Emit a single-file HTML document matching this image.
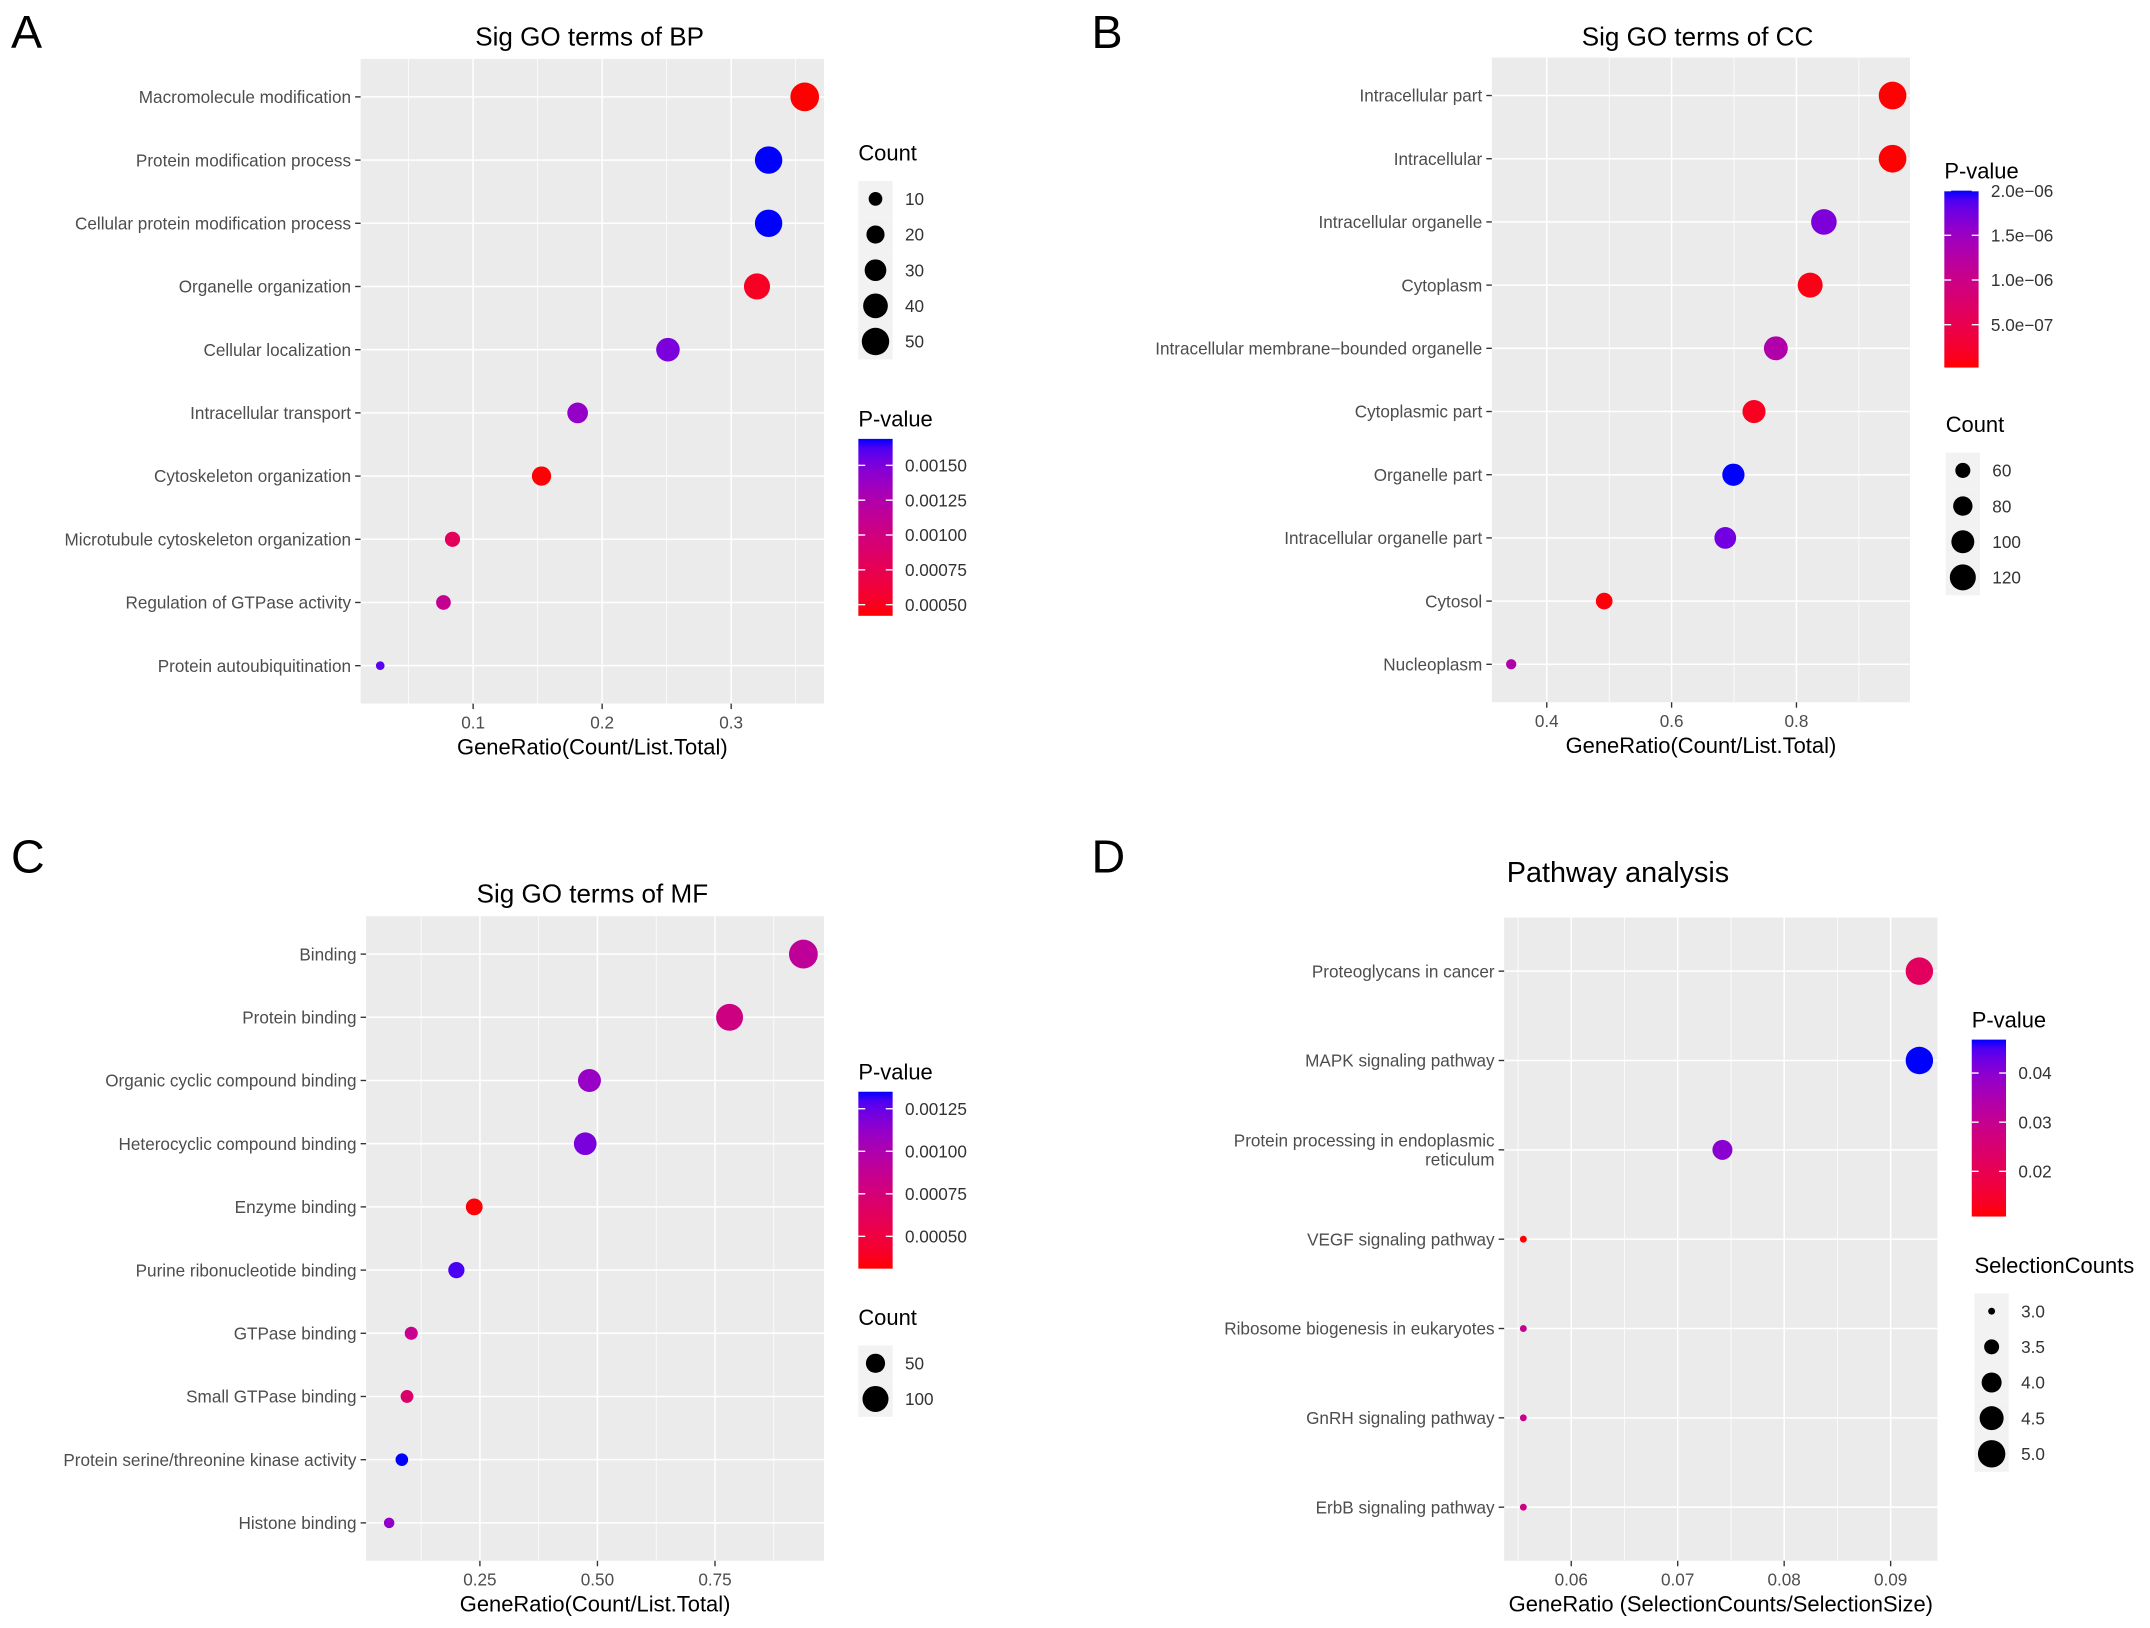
<!DOCTYPE html>
<html><head><meta charset="utf-8"><style>
html,body{margin:0;padding:0;background:#fff;}
svg{display:block;font-family:"Liberation Sans",Arial,sans-serif;}
</style></head><body>
<svg id="fig" width="2150" height="1628" viewBox="0 0 1568 1187" preserveAspectRatio="none" xmlns="http://www.w3.org/2000/svg"></svg>
<script>
// ---------- Panel A data (BP) ----------
const catsA = ["Macromolecule modification","Protein modification process","Cellular protein modification process","Organelle organization","Cellular localization","Intracellular transport","Cytoskeleton organization","Microtubule cytoskeleton organization","Regulation of GTPase activity","Protein autoubiquitination"];
const ratioA = [0.357,0.329,0.329,0.320,0.251,0.181,0.153,0.084,0.077,0.028];
const countA = [55,50,50,45,36,27,23,13,12,2];
const pA = [0.00042,0.00169,0.00169,0.00052,0.00150,0.00140,0.00043,0.00080,0.00110,0.00160];
const xticksA = [0.1,0.2,0.3];
const xtickLabA = ["0.1","0.2","0.3"];
const sizeBreaksA = [10,20,30,40,50];
const pBreaksA = [0.0005,0.00075,0.001,0.00125,0.0015];
const pLabA = ["0.00050","0.00075","0.00100","0.00125","0.00150"];
// ---------- Panel B data (CC) ----------
const catsB = ["Intracellular part","Intracellular","Intracellular organelle","Cytoplasm","Intracellular membrane\u2212bounded organelle","Cytoplasmic part","Organelle part","Intracellular organelle part","Cytosol","Nucleoplasm"];
const ratioB = [0.954,0.954,0.844,0.822,0.767,0.732,0.699,0.686,0.492,0.343];
const countB = [132,132,117,113,106,101,96,93,67,44];
const pB = [3e-8,3e-8,1.7e-6,1e-7,1.3e-6,1.5e-7,2.0e-6,1.75e-6,5e-8,1.3e-6];
const xticksB = [0.4,0.6,0.8];
const xtickLabB = ["0.4","0.6","0.8"];
const sizeBreaksB = [60,80,100,120];
const pBreaksB = [5e-7,1e-6,1.5e-6,2e-6];
const pLabB = ["5.0e\u221207","1.0e\u221206","1.5e\u221206","2.0e\u221206"];
// ---------- Panel C data (MF) ----------
const catsC = ["Binding","Protein binding","Organic cyclic compound binding","Heterocyclic compound binding","Enzyme binding","Purine ribonucleotide binding","GTPase binding","Small GTPase binding","Protein serine/threonine kinase activity","Histone binding"];
const ratioC = [0.938,0.781,0.483,0.474,0.238,0.200,0.104,0.095,0.084,0.057];
const countC = [125,108,76,74,36,33,18,17,16,8];
const pC = [0.00090,0.00080,0.00110,0.00120,0.00032,0.00130,0.00085,0.00070,0.00135,0.00112];
const xticksC = [0.25,0.5,0.75];
const xtickLabC = ["0.25","0.50","0.75"];
const sizeBreaksC = [50,100];
const pBreaksC = [0.0005,0.00075,0.001,0.00125];
const pLabC = ["0.00050","0.00075","0.00100","0.00125"];
// ---------- Panel D data (Pathway) ----------
const catsD = ["Proteoglycans in cancer","MAPK signaling pathway","Protein processing in endoplasmic|reticulum","VEGF signaling pathway","Ribosome biogenesis in eukaryotes","GnRH signaling pathway","ErbB signaling pathway"];
const ratioD = [0.0927,0.0927,0.0742,0.0555,0.0555,0.0555,0.0555];
const countD = [5,5,4,3,3,3,3];
const pD = [0.022,0.0468,0.040,0.011,0.030,0.029,0.028];
const xticksD = [0.06,0.07,0.08,0.09];
const xtickLabD = ["0.06","0.07","0.08","0.09"];
const sizeBreaksD = [3.0,3.5,4.0,4.5,5.0];
const sizeLabD = ["3.0","3.5","4.0","4.5","5.0"];
const pBreaksD = [0.02,0.03,0.04];
const pLabD = ["0.02","0.03","0.04"];

const NS = "http://www.w3.org/2000/svg";
const svg = document.getElementById('fig');
function mk(tag, attrs, parent){const e=document.createElementNS(NS,tag);for(const k in attrs)e.setAttribute(k,attrs[k]);(parent||svg).appendChild(e);return e;}
function txt(s, attrs, parent){const e=mk('text',attrs,parent);e.textContent=s;return e;}

function lin(c){c/=255;return c<=0.04045?c/12.92:Math.pow((c+0.055)/1.055,2.4);}
function unlin(c){c=c<=0.0031308?12.92*c:1.055*Math.pow(c,1/2.4)-0.055;return Math.max(0,Math.min(255,Math.round(c*255)));}
const Xn=0.95047,Yn=1,Zn=1.08883;
function f(t){return t>0.008856?Math.cbrt(t):7.787*t+16/116;}
function finv(t){return t>0.206893?t*t*t:(t-16/116)/7.787;}
function rgb2lab(r,g,b){r=lin(r);g=lin(g);b=lin(b);
 const X=0.4124*r+0.3576*g+0.1805*b,Y=0.2126*r+0.7152*g+0.0722*b,Z=0.0193*r+0.1192*g+0.9505*b;
 const fx=f(X/Xn),fy=f(Y/Yn),fz=f(Z/Zn);return [116*fy-16,500*(fx-fy),200*(fy-fz)];}
function lab2rgb(L,a,bb){const fy=(L+16)/116,fx=fy+a/500,fz=fy-bb/200;
 const X=Xn*finv(fx),Y=Yn*finv(fy),Z=Zn*finv(fz);
 const r=3.2406*X-1.5372*Y-0.4986*Z,g=-0.9689*X+1.8758*Y+0.0415*Z,b=0.0557*X-0.2040*Y+1.0570*Z;
 return 'rgb('+unlin(r)+','+unlin(g)+','+unlin(b)+')';}
const LR=rgb2lab(255,0,0), LB=rgb2lab(0,0,255);
function grad(t){t=Math.max(0,Math.min(1,t));return lab2rgb(LR[0]+(LB[0]-LR[0])*t,LR[1]+(LB[1]-LR[1])*t,LR[2]+(LB[2]-LR[2])*t);}

let gradId=0;
function drawPanel(c){
  const g = mk('g',{});
  
  
  const L = txt(c.letter,{x:c.letterX,y:c.letterY,'font-size':34,fill:'#000'},g);
  
  
  const T = txt(c.title,{x:c.titleX,y:c.titleY,'font-size':c.titleSize||19,'text-anchor':'middle',fill:'#000'},g);
  
  
  const bg = mk('rect',{x:c.x0,y:c.y0,width:c.x1-c.x0,height:c.y1-c.y0,fill:'#ebebeb'},g);
  
  
  const xs = v => c.x0 + (v - c.d0)/(c.d1 - c.d0)*(c.x1 - c.x0);
  const n = c.cats.length;
  const step = (c.y1 - c.y0)/(n - 1 + 1.2);
  const ys = i => c.y0 + (0.6 + i)*step;
  for(let k=0;k<c.ticks.length+1;k++){
    const a = k===0 ? c.ticks[0]-(c.ticks[1]-c.ticks[0]) : c.ticks[k-1];
    const b = k<c.ticks.length ? c.ticks[k] : c.ticks[k-1]+(c.ticks[1]-c.ticks[0]);
    const m=(a+b)/2;
    if(m>c.d0 && m<c.d1){const px=xs(m);
      const ln=mk('line',{x1:px,x2:px,y1:c.y0,y2:c.y1,stroke:'#fff','stroke-width':0.55},g);
      
      }
  }
  c.ticks.forEach((t,i)=>{const px=xs(t);
    const ln=mk('line',{x1:px,x2:px,y1:c.y0,y2:c.y1,stroke:'#fff','stroke-width':1.1},g);
    
    
    mk('line',{x1:px,x2:px,y1:c.y1,y2:c.y1+4,stroke:'#333','stroke-width':1},g);
    const tl=txt(c.tickLab[i],{x:px,y:c.y1+18,'font-size':12.5,'text-anchor':'middle',fill:'#4d4d4d'},g);
    
    
  });
  c.cats.forEach((cat,i)=>{const py=ys(i);
    const ln=mk('line',{x1:c.x0,x2:c.x1,y1:py,y2:py,stroke:'#fff','stroke-width':1.1},g);
    
    
    mk('line',{x1:c.x0-4,x2:c.x0,y1:py,y2:py,stroke:'#333','stroke-width':1},g);
    const parts=cat.split('|');
    const yl=txt('',{x:c.x0-7,y:py+4.5-(parts.length-1)*7,'font-size':12.5,'text-anchor':'end',fill:'#4d4d4d'},g);
    parts.forEach((p,j)=>{const ts=mk('tspan',{x:c.x0-7,dy:j?14:0},yl);ts.textContent=p;});
    
    
  });
  const at=txt(c.xTitle,{x:(c.x0+c.x1)/2,y:c.y1+37,'font-size':16,'text-anchor':'middle',fill:'#000'},g);
  
  
  const rad = v => Math.sqrt(Math.max(4, c.sa + c.sb*v));
  const pcol = v => grad((v - c.p0)/(c.p1 - c.p0));
  c.cats.forEach((cat,i)=>{
    const pt=mk('circle',{cx:xs(c.ratio[i]),cy:ys(i),r:rad(c.count[i]),fill:pcol(c.p[i])},g);
    
    
  });
  const sl=mk('g',{},g);
  
  
  txt(c.sTitle,{x:c.sx,y:c.sy,'font-size':16,fill:'#000'},sl);
  c.sBreaks.forEach((b,i)=>{const ky=c.sy+15+i*26;
    mk('rect',{x:c.sx,y:ky,width:25,height:26,fill:'#f2f2f2'},sl);
    const kc=mk('circle',{cx:c.sx+12.5,cy:ky+13,r:rad(b),fill:'#000'},sl);
    
    
    txt(c.sLab?c.sLab[i]:String(b),{x:c.sx+34,y:ky+17.5,'font-size':12.5,fill:'#333'},sl);
  });
  const cl=mk('g',{},g);
  
  
  txt('P-value',{x:c.cx,y:c.cy,'font-size':16,fill:'#000'},cl);
  const id='gr'+(gradId++);
  const lg=mk('linearGradient',{id:id,x1:0,y1:1,x2:0,y2:0},mk('defs',{},cl));
  for(let k=0;k<=20;k++){mk('stop',{offset:(k/20),'stop-color':grad(k/20)},lg);}
  const bt=c.cy+9, bh=129;
  mk('rect',{x:c.cx,y:bt,width:25,height:bh,fill:'url(#'+id+')'},cl);
  c.pBreaks.forEach((b,i)=>{const py=bt+bh-(b-c.p0)/(c.p1-c.p0)*bh;
    mk('line',{x1:c.cx,x2:c.cx+5,y1:py,y2:py,stroke:'#fff','stroke-width':1},cl);
    mk('line',{x1:c.cx+20,x2:c.cx+25,y1:py,y2:py,stroke:'#fff','stroke-width':1},cl);
    txt(c.pLab[i],{x:c.cx+34,y:py+4.5,'font-size':12.5,fill:'#333'},cl);
  });
}

drawPanel({name:'panel-a-bp',letter:'A',letterX:8,letterY:35,title:'Sig GO terms of BP',titleX:430,titleY:33,
  x0:263,x1:601,y0:43,y1:513,d0:0.0128,d1:0.372,cats:catsA,ratio:ratioA,count:countA,p:pA,
  ticks:xticksA,tickLab:xtickLabA,xTitle:'GeneRatio(Count/List.Total)',
  sa:6.25,sb:1.875,sTitle:'Count',sx:626,sy:117,sBreaks:sizeBreaksA,
  p0:0.00042,p1:0.00169,cx:626,cy:311,pBreaks:pBreaksA,pLab:pLabA});
drawPanel({name:'panel-b-cc',letter:'B',letterX:796,letterY:35,title:'Sig GO terms of CC',titleX:1238,titleY:33,
  x0:1088,x1:1393,y0:42,y1:512,d0:0.312,d1:0.982,cats:catsB,ratio:ratioB,count:countB,p:pB,
  ticks:xticksB,tickLab:xtickLabB,xTitle:'GeneRatio(Count/List.Total)',
  sa:-30,sb:1,sTitle:'Count',sx:1419,sy:315,sBreaks:sizeBreaksB,
  p0:2e-8,p1:2.0e-6,cx:1418,cy:130,pBreaks:pBreaksB,pLab:pLabB});
drawPanel({name:'panel-c-mf',letter:'C',letterX:8,letterY:636,title:'Sig GO terms of MF',titleX:432,titleY:658,
  x0:267,x1:601,y0:668,y1:1138,d0:0.008,d1:0.982,cats:catsC,ratio:ratioC,count:countC,p:pC,
  ticks:xticksC,tickLab:xtickLabC,xTitle:'GeneRatio(Count/List.Total)',
  sa:8,sb:0.82,sTitle:'Count',sx:626,sy:966,sBreaks:sizeBreaksC,
  p0:0.00031,p1:0.00135,cx:626,cy:787,pBreaks:pBreaksC,pLab:pLabC});
drawPanel({name:'panel-d-pathway',letter:'D',letterX:796,letterY:636,title:'Pathway analysis',titleX:1180,titleY:643,titleSize:21,
  x0:1097,x1:1413,y0:669,y1:1138,d0:0.0537,d1:0.0944,cats:catsD,ratio:ratioD,count:countD,p:pD,
  ticks:xticksD,tickLab:xtickLabD,xTitle:'GeneRatio (SelectionCounts/SelectionSize)',
  sa:-134.4,sb:46.9,sTitle:'SelectionCounts',sx:1440,sy:928,sBreaks:sizeBreaksD,sLab:sizeLabD,
  p0:0.0108,p1:0.0468,cx:1438,cy:749,pBreaks:pBreaksD,pLab:pLabD});
</script>
</body></html>
